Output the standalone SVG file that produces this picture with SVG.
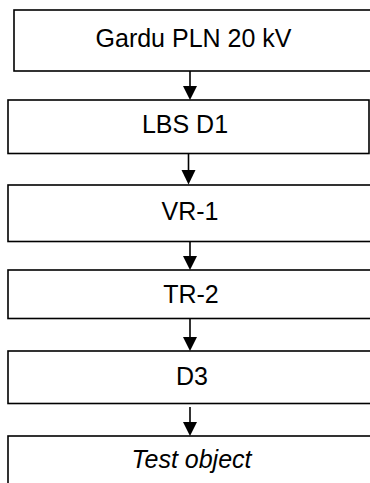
<svg xmlns="http://www.w3.org/2000/svg" width="370" height="483" viewBox="0 0 370 483">
<defs>
<style>
.box{fill:#fff;stroke:#000;stroke-width:1.6}
.lbl{font-family:"Liberation Sans",Arial,sans-serif;font-size:25px;fill:#000;text-anchor:middle}
.it{font-style:italic}
.con{stroke:#000;stroke-width:1.6;fill:none}
.head{fill:#000}
</style>
</defs>
<rect width="370" height="483" fill="#fff"/>
<g id="node-gardu">
<rect class="box" x="14" y="10" width="370" height="61"/>
<text class="lbl" x="193.5" y="47">Gardu PLN 20 kV</text>
</g>
<g id="node-lbs">
<rect class="box" x="8" y="100" width="361" height="53.5"/>
<text class="lbl" x="185" y="133">LBS D1</text>
</g>
<g id="node-vr1">
<rect class="box" x="8" y="185" width="370" height="56.5"/>
<text class="lbl" x="190" y="220">VR-1</text>
</g>
<g id="node-tr2">
<rect class="box" x="8" y="270" width="370" height="48.5"/>
<text class="lbl" x="191" y="303">TR-2</text>
</g>
<g id="node-d3">
<rect class="box" x="8" y="351" width="370" height="52.5"/>
<text class="lbl" x="192" y="385">D3</text>
</g>
<g id="node-test">
<rect class="box" x="8" y="436" width="370" height="60"/>
<text class="lbl it" x="191.5" y="468">Test object</text>
</g>
<g id="connectors">
<line class="con" x1="190" y1="71" x2="190" y2="88"/>
<polygon class="head" points="183,86 197,86 190,100"/>
<line class="con" x1="188.5" y1="153.5" x2="188.5" y2="172"/>
<polygon class="head" points="181.5,170 195.5,170 188.5,184.5"/>
<line class="con" x1="190" y1="241.5" x2="190" y2="258"/>
<polygon class="head" points="183,256 197,256 190,270"/>
<line class="con" x1="190" y1="318.5" x2="190" y2="339"/>
<polygon class="head" points="183,337 197,337 190,351"/>
<line class="con" x1="190" y1="407" x2="190" y2="424"/>
<polygon class="head" points="183,422 197,422 190,436"/>
</g>
</svg>
